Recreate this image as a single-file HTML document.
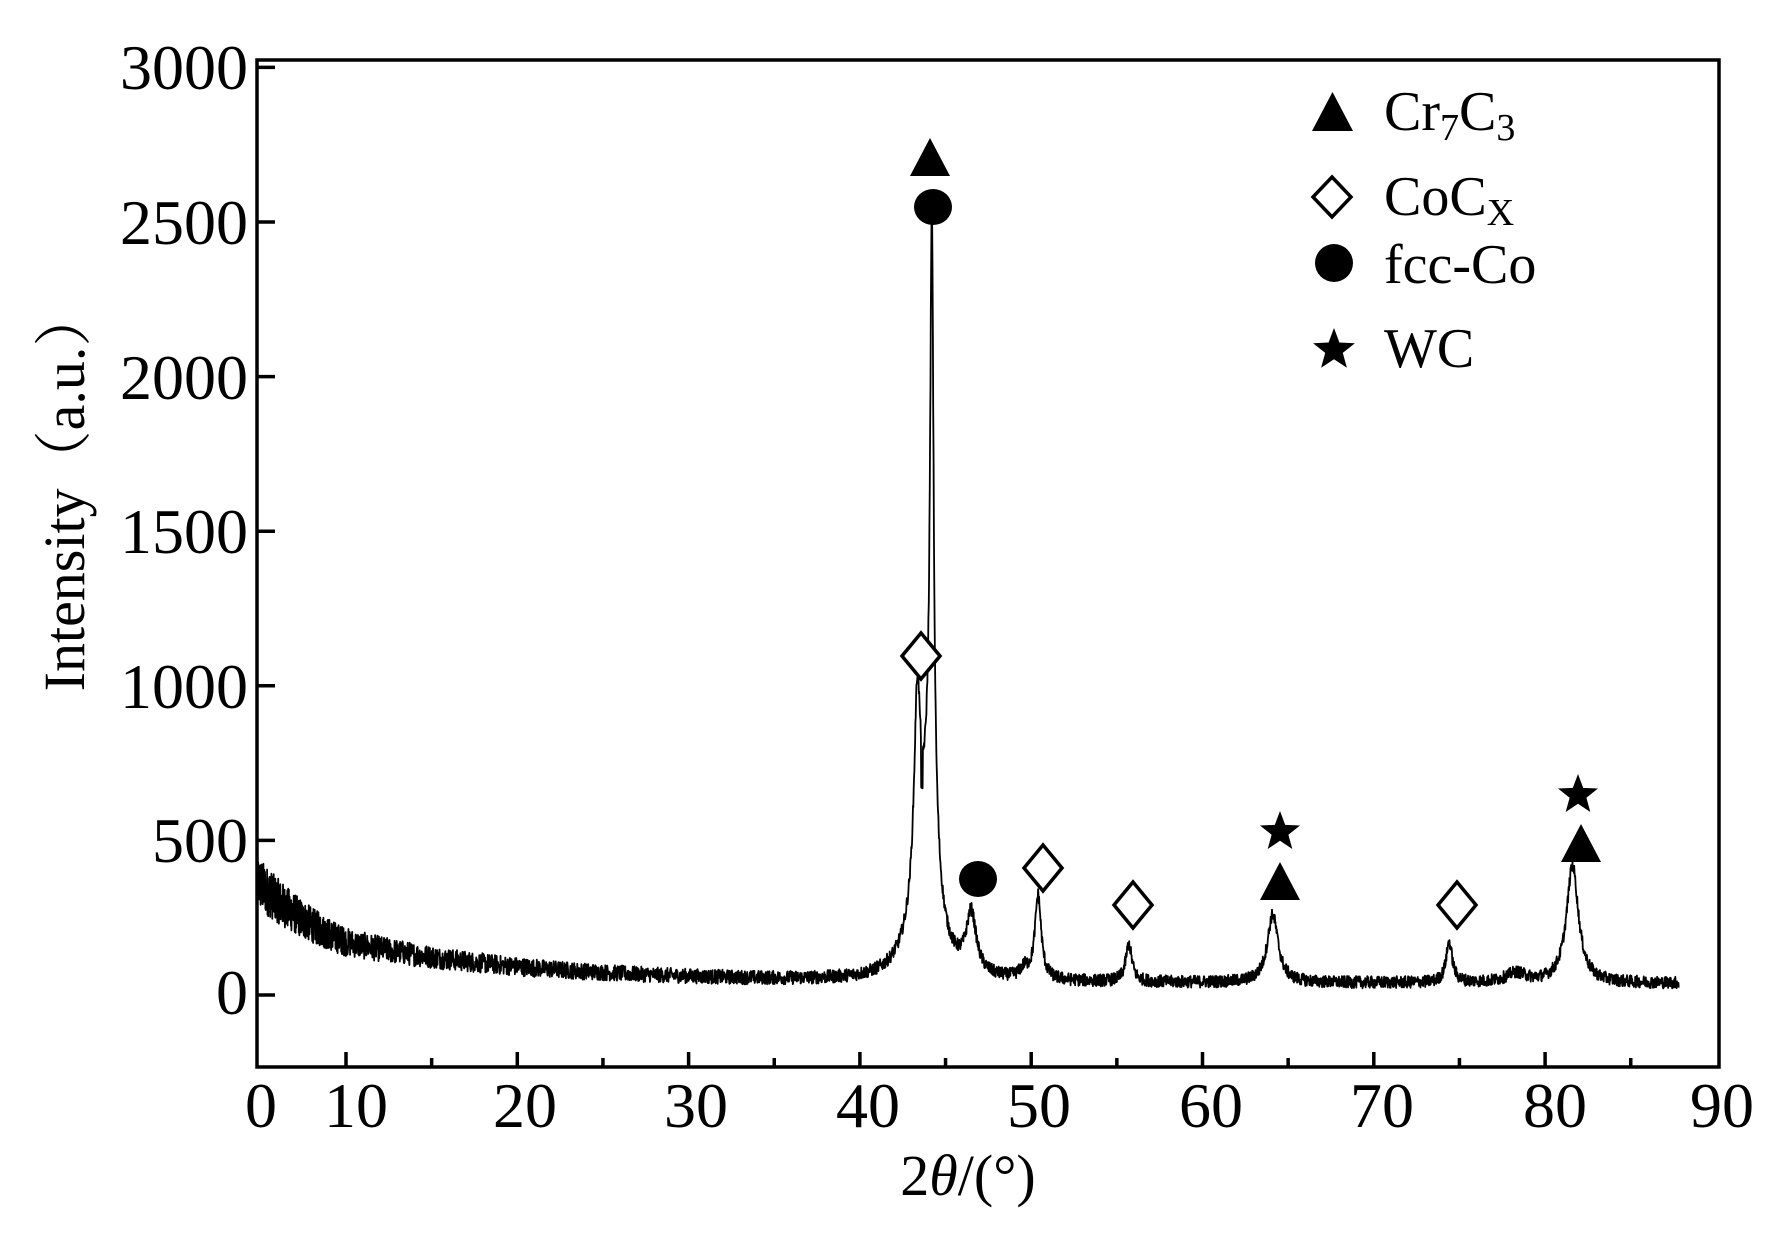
<!DOCTYPE html>
<html><head><meta charset="utf-8">
<style>
html,body{margin:0;padding:0;background:#fff;}
svg{display:block;}
text{font-family:"Liberation Serif","Noto Serif CJK SC",serif;fill:#000;}
</style></head>
<body>
<svg id="s" width="1782" height="1235" viewBox="0 0 1782 1235" xmlns="http://www.w3.org/2000/svg">
<rect x="0" y="0" width="1782" height="1235" fill="#fff"/>
<path id="curve" d="" fill="none" stroke="#000" stroke-width="1.8" stroke-linejoin="round"/>
<rect x="257" y="60" width="1462" height="1007" fill="none" stroke="#000" stroke-width="3.5"/>
<g id="ticks" stroke="#000" stroke-width="3.5"></g>
<g font-size="64" text-anchor="end">
<text x="248" y="89">3000</text>
<text x="248" y="244">2500</text>
<text x="248" y="399">2000</text>
<text x="248" y="553">1500</text>
<text x="248" y="708">1000</text>
<text x="248" y="862">500</text>
<text x="248" y="1014">0</text>
</g>
<g font-size="64" text-anchor="middle">
<text x="261" y="1127">0</text>
<text x="356" y="1127">10</text>
<text x="525" y="1127">20</text>
<text x="696" y="1127">30</text>
<text x="868" y="1127">40</text>
<text x="1039" y="1127">50</text>
<text x="1211" y="1127">60</text>
<text x="1382" y="1127">70</text>
<text x="1555" y="1127">80</text>
<text x="1722" y="1127">90</text>
</g>
<text font-size="58" text-anchor="middle" transform="translate(84,490) rotate(-90)">Intensity（a.u.）</text>
<text font-size="58" x="968" y="1195" text-anchor="middle">2<tspan font-style="italic">θ</tspan>/(°)</text>
<polygon points="1312,131 1353,131 1332.5,92" fill="#000"/>
<text x="1384" y="130" font-size="56">Cr<tspan font-size="38" dy="10">7</tspan><tspan dy="-10">C</tspan><tspan font-size="38" dy="10">3</tspan></text>
<polygon points="1332,177 1351,197 1332,217 1313,197" fill="#fff" stroke="#000" stroke-width="3.5"/>
<text x="1384" y="215" font-size="56">CoC<tspan font-size="38" dy="10">X</tspan></text>
<circle cx="1334" cy="263" r="19" fill="#000"/>
<text x="1384" y="283" font-size="56">fcc-Co</text>
<g id="stars"></g>
<text x="1384" y="367" font-size="56">WC</text>
<polygon points="910,176 950,176 930,138" fill="#000"/>
<ellipse cx="933" cy="207" rx="19" ry="18" fill="#000"/>
<polygon points="921,633 940,656 921,679 902,656" fill="#fff" stroke="#000" stroke-width="3.5"/>
<ellipse cx="978" cy="879" rx="19" ry="18" fill="#000"/>
<polygon points="1043,845 1062,868 1043,891 1024,868" fill="#fff" stroke="#000" stroke-width="3.5"/>
<polygon points="1133,882 1152,905 1133,928 1114,905" fill="#fff" stroke="#000" stroke-width="3.5"/>
<polygon points="1260,900 1300,900 1280,862" fill="#000"/>
<polygon points="1457,882 1476,905 1457,928 1438,905" fill="#fff" stroke="#000" stroke-width="3.5"/>
<polygon points="1561,862 1601,862 1581,824" fill="#000"/>
</svg>
<script>
(function(){
function X(v){return v<=10?257+v*8.9:346+(v-10)*17.13;}
function Y(v){return 995-v*0.3092;}
var t=document.getElementById('ticks'),h='';
for(var i=0;i<=6;i++){var y=Y(i*500);h+='<line x1="257" x2="275" y1="'+y+'" y2="'+y+'"/>';}
for(var v=10;v<=85;v+=5){var x=X(v),L=(v%10==0)?15:9;h+='<line x1="'+x+'" x2="'+x+'" y1="1067" y2="'+(1067-L)+'"/>';}
t.innerHTML=h;
function star(cx,cy,r){var p=[];for(var k=0;k<10;k++){var a=-Math.PI/2+k*Math.PI/5,rr=k%2?r*0.42:r;p.push((cx+rr*Math.cos(a)).toFixed(1)+','+(cy+rr*Math.sin(a)).toFixed(1));}return '<polygon fill="#000" points="'+p.join(' ')+'"/>';}
document.getElementById('stars').innerHTML=star(1334,350,22)+star(1280,832,21)+star(1578,795,21);
var seed=12345;function rnd(){seed=(seed*1103515245+12345)%2147483648;return seed/2147483648;}
function lor(x,c,w,hh){var d=(x-c)/w;return hh/(1+d*d);}
var peaks=[[43.35,0.22,620],[44.2,0.12,1900],[44.1,0.5,420],[43.6,0.9,220],[46.5,0.35,190],[50.4,0.22,270],[49.6,0.3,30],[55.7,0.22,120],[64.1,0.38,220],[74.4,0.22,130],[78.3,0.7,30],[81.6,0.42,380]];
var d='';
for(var x=0;x<=87.8;x+=0.02){
 var b=38+330*Math.exp(-x/11);
 var s=b;for(var k=0;k<peaks.length;k++){var p=peaks[k];s+=lor(x,p[0],p[1],p[2]);}
 if(Math.abs(x-43.62)<0.05)s-=150;
 var amp=12+0.2*b;
 s+=(rnd()-0.5)*2*amp;
 d+=(d?'L':'M')+X(x).toFixed(1)+','+Y(s).toFixed(1);
}
document.getElementById('curve').setAttribute('d',d);
})();
</script>
</body></html>
